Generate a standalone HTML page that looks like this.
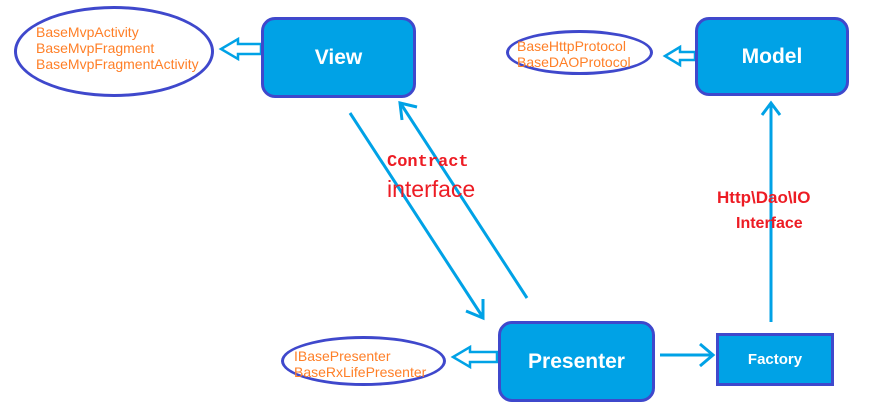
<!DOCTYPE html>
<html><head><style>
body{margin:0;background:#fff;width:894px;height:418px;overflow:hidden;position:relative;font-family:"Liberation Sans",sans-serif}
.box{position:absolute;background:#00a2e6;border:3px solid #3f48cc;box-sizing:border-box;color:#fff;font-weight:bold;display:flex;align-items:center;justify-content:center}
.el{position:absolute;border:3px solid #3f48cc;border-radius:50%;box-sizing:border-box;color:#ff7f27;font-size:14px;line-height:16px}
.t{position:absolute;color:#ed1c24;white-space:nowrap}
</style></head><body>
<svg width="894" height="418" style="position:absolute;left:0;top:0" fill="none" stroke="#00a2e6" stroke-width="3">
<path d="M261 44 H238 V39 L221 49 L238 59 V54 H261 Z" stroke-width="2.5"/>
<path d="M695 52 H680 V47 L665 56 L680 65 V60 H695 Z" stroke-width="2.5"/>
<path d="M497 352 H470 V347 L453 357 L470 367 V362 H497 Z" stroke-width="2.5"/>
<line x1="350" y1="113" x2="482" y2="316"/><path d="M466 311 L483 318 L483 299"/>
<line x1="527" y1="298" x2="401" y2="104"/><path d="M402 120 L400 103 L417 107"/>
<line x1="660" y1="355" x2="711" y2="355"/><path d="M700 344 L713 355 L700 366"/>
<line x1="771" y1="322" x2="771" y2="104"/><path d="M762 115 L771 103 L780 115"/>
</svg>
<div class="el" style="left:14px;top:6px;width:200px;height:91px;padding:15px 0 0 19px">BaseMvpActivity<br>BaseMvpFragment<br>BaseMvpFragmentActivity</div>
<div class="box" style="left:261px;top:17px;width:155px;height:81px;border-radius:14px;font-size:21px">View</div>
<div class="el" style="left:506px;top:30px;width:147px;height:45px;padding:5px 0 0 8px">BaseHttpProtocol<br>BaseDAOProtocol</div>
<div class="box" style="left:695px;top:17px;width:154px;height:79px;border-radius:14px;font-size:21px">Model</div>
<div class="el" style="left:281px;top:336px;width:165px;height:50px;padding:9px 0 0 10px">IBasePresenter<br>BaseRxLifePresenter</div>
<div class="box" style="left:498px;top:321px;width:157px;height:81px;border-radius:14px;font-size:21px">Presenter</div>
<div class="box" style="left:716px;top:333px;width:118px;height:53px;font-size:15px">Factory</div>
<div class="t" style="left:387px;top:153px;font-family:'Liberation Mono',monospace;font-weight:bold;font-size:17px">Contract</div>
<div class="t" style="left:387px;top:176px;font-size:23px">interface</div>
<div class="t" style="left:717px;top:188px;font-weight:bold;font-size:17px">Http\Dao\IO</div>
<div class="t" style="left:736px;top:215px;font-weight:bold;font-size:16px">Interface</div>
</body></html>
